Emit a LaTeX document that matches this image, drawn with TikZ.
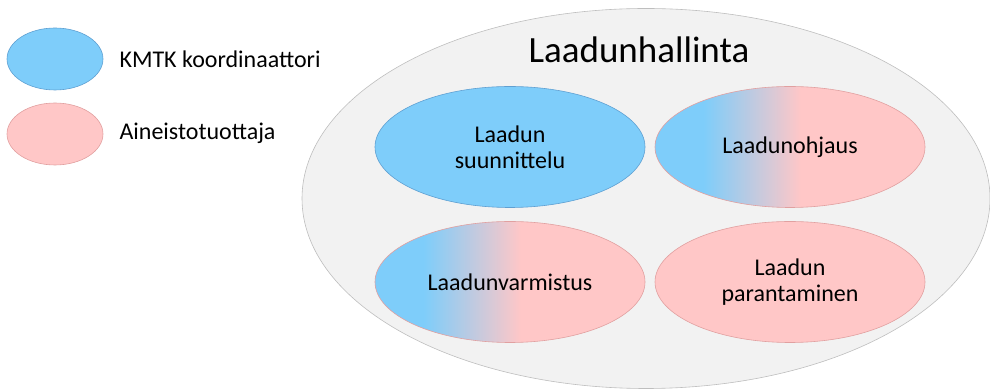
\documentclass[tikz,border=0pt]{standalone}
\usepackage{fontspec}
\setmainfont{Carlito}
\usepackage{tikz}
\usetikzlibrary{shapes.geometric,positioning}

\definecolor{kmtkblue}{RGB}{126,205,250}
\definecolor{kmtkblueline}{RGB}{95,160,210}
\definecolor{tuotpink}{RGB}{255,199,199}
\definecolor{tuotpinkline}{RGB}{225,160,160}
\definecolor{hallgray}{RGB}{242,242,242}
\definecolor{hallline}{RGB}{190,190,190}

% blue on the left, pink on the right (25bp..75bp = path width)
\pgfdeclarehorizontalshading{bluepink}{100bp}{color(0bp)=(kmtkblue); color(34bp)=(kmtkblue); color(52bp)=(tuotpink); color(100bp)=(tuotpink)}

\begin{document}
\begin{tikzpicture}[
      x=1pt, y=1pt,
      every node/.style={font=\fontsize{24}{26}\selectfont, align=center},
      outer/.style={ellipse, draw=hallline, fill=hallgray, line width=0.6pt, minimum width=688, minimum height=380},
      part/.style={ellipse, line width=0.6pt, minimum width=270, minimum height=121, inner sep=0pt},
      kmtk/.style={part, draw=kmtkblueline, fill=kmtkblue},
      tuot/.style={part, draw=tuotpinkline, fill=tuotpink},
      both/.style={part, draw=tuotpinkline, shading=bluepink},
      legend/.style={ellipse, line width=0.6pt, minimum width=96, minimum height=62, inner sep=0pt},
      legtext/.style={anchor=west, align=left}
    ]
    \useasboundingbox (0,0) rectangle (990,390);

    % legend
    \node[legend, draw=kmtkblueline, fill=kmtkblue] (leg_kmtk) at (55,331) {};
    \node[legend, draw=tuotpinkline, fill=tuotpink] (leg_tuot) at (55,256) {};
    \node[legtext] (txt_kmtk) at (116,331) {KMTK koordinaattori};
    \node[legtext] (txt_tuot) at (116,257) {Aineistotuottaja};

    % quality management
    \node[outer] (hallinta) at (646,191.5) {};
    \node[font=\fontsize{37}{40}\selectfont] (title) at (639,340) {Laadunhallinta};

    \node[kmtk] (suunnittelu) at (510,243) {Laadun\\suunnittelu};
    \node[both] (ohjaus) at (790,243) {Laadunohjaus};
    \node[both] (varmistus) at (510,108) {Laadunvarmistus};
    \node[tuot] (parantaminen) at (790,108) {Laadun\\parantaminen};
  \end{tikzpicture}
\end{document}
